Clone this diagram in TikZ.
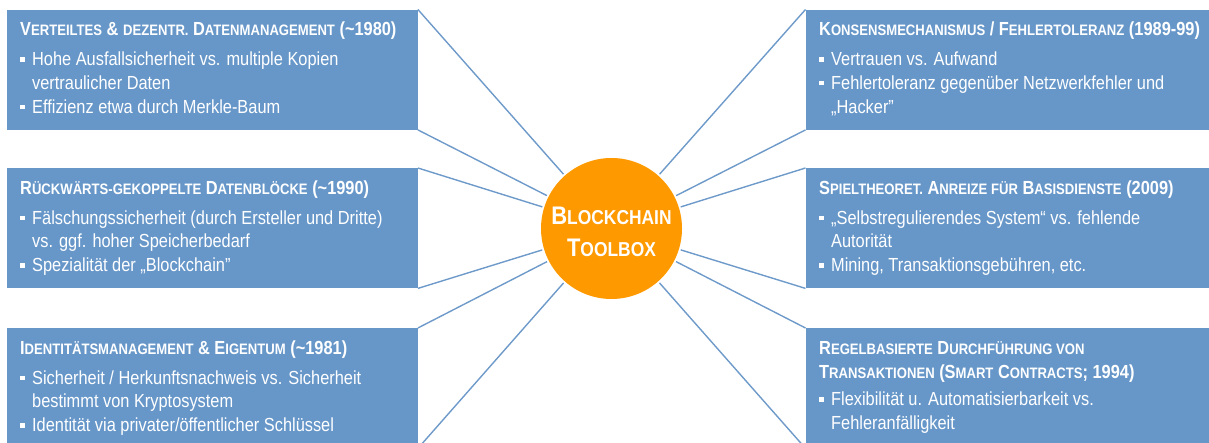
\documentclass[tikz,border=0pt]{standalone}
\usepackage{fontspec}
\setmainfont[FakeStretch=0.865,Ligatures=TeX]{Liberation Sans}
\definecolor{boxblue}{HTML}{6797C9}
\definecolor{linkblue}{HTML}{6E9ACA}
\definecolor{hub}{HTML}{FF9900}
\newcommand\sm[1]{{\fontsize{15.2}{24}\selectfont #1}}
\newcommand\ttl[1]{\rule{0pt}{20pt}{\bfseries #1}\\[6pt]}
\newcommand\bul{\makebox[12pt][l]{\raisebox{4pt}{\rule{4.5pt}{4.5pt}}}}
\newcommand\cont{\hspace*{12pt}}
\tikzset{
 panel/.style={fill=boxblue,draw=none,minimum width=411bp,minimum height=120bp,anchor=north west,inner sep=0},
 lab/.style={text=white,align=left,anchor=north west,inner sep=0,font=\fontsize{19}{24}\selectfont},
 link/.style={draw=linkblue,line width=1.4bp},
 hubnode/.style={circle,fill=hub,minimum size=141bp,inner sep=0,outer sep=2bp,text=white,align=center}
}
\begin{document}
\begin{tikzpicture}[x=1bp,y=-1bp]
\useasboundingbox (0,0) rectangle (1209,443);
\clip (0,0) rectangle (1209,443);
\node[panel] (a) at (6.5,9.5) {};
\node[panel] (b) at (6.5,168) {};
\node[panel] (c) at (6.5,328) {};
\node[panel] (d) at (805.5,9.5) {};
\node[panel] (e) at (805.5,168) {};
\node[panel] (f) at (805.5,328) {};
\node[hubnode] (hub) at (611.5,228.5) {};
\foreach \n/\s in {a/east,b/east,c/east,d/west,e/west,f/west}{
  \draw[link] (\n.north \s) -- (hub);
  \draw[link] (\n.south \s) -- (hub);
}
\node[lab] (ta) at (20,15.5) {\ttl{V\sm{ERTEILTES} \& \sm{DEZENTR.} D\sm{ATENMANAGEMENT} (\textasciitilde1980)}
\bul Hohe Ausfallsicherheit  vs. multiple  Kopien\\
\cont vertraulicher  Daten\\
\bul Effizienz etwa durch Merkle-Baum};
\node[lab] (tb) at (20,174) {\ttl{R\sm{ÜCKWÄRTS-GEKOPPELTE} D\sm{ATENBLÖCKE} (\textasciitilde1990)}
\bul Fälschungssicherheit  (durch Ersteller und Dritte)\\
\cont vs. ggf. hoher Speicherbedarf\\
\bul Spezialität der „Blockchain”};
\node[lab] (tc) at (20,334) {\ttl{I\sm{DENTITÄTSMANAGEMENT} \& E\sm{IGENTUM} (\textasciitilde1981)}
\bul Sicherheit / Herkunftsnachweis vs. Sicherheit\\
\cont bestimmt von Kryptosystem\\
\bul Identität via privater/öffentlicher Schlüssel};
\node[lab] (td) at (819,15.5) {\ttl{K\sm{ONSENSMECHANISMUS} / F\sm{EHLERTOLERANZ} (1989-99)}
\bul Vertrauen vs. Aufwand\\
\bul Fehlertoleranz gegenüber  Netzwerkfehler und\\
\cont „Hacker”};
\node[lab] (te) at (819,174) {\ttl{S\sm{PIELTHEORET.} A\sm{NREIZE FÜR} B\sm{ASISDIENSTE} (2009)}
\bul „Selbstregulierendes  System“  vs.  fehlende\\
\cont Autorität\\
\bul Mining,  Transaktionsgebühren,  etc.};
\node[lab] (tf) at (819,334) {\rule{0pt}{20pt}{\bfseries R\sm{EGELBASIERTE} D\sm{URCHFÜHRUNG VON}}\\
{\bfseries T\sm{RANSAKTIONEN} (S\sm{MART} C\sm{ONTRACTS}; 1994)}\\[4pt]
\bul Flexibilität  u. Automatisierbarkeit  vs.\\
\cont Fehleranfälligkeit};
\node[text=white,align=center,font=\fontsize{25.5}{32}\selectfont\bfseries,inner sep=0] (hubtext) at (611.5,232)
 {B{\fontsize{20.2}{32}\selectfont LOCKCHAIN}\\T{\fontsize{20.2}{32}\selectfont OOLBOX}};
\end{tikzpicture}
\end{document}
